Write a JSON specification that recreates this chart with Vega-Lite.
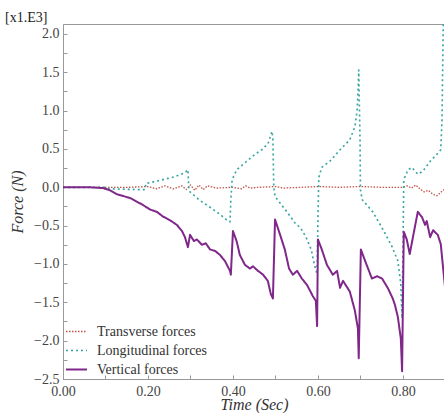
{
  "$schema": "https://vega.github.io/schema/vega-lite/v6.json",
  "autosize": {"type": "none"},
  "padding": {"left": 63, "top": 24, "right": 0, "bottom": 34},
  "width": 382,
  "height": 355,
  "background": "white",
  "title": {"text": "[x1.E3]", "anchor": "start", "frame": "group", "dx": -58, "dy": 12, "offset": 0, "baseline": "alphabetic", "font": "Liberation Serif", "fontSize": 14, "fontWeight": "normal", "color": "#222"},
  "config": {
    "font": "Liberation Serif",
    "view": {"stroke": "#999", "strokeWidth": 1},
    "axis": {"labelFont": "Liberation Serif", "labelFontSize": 14, "labelColor": "#444", "titleFont": "Liberation Serif", "titleFontSize": 16, "titleFontStyle": "italic", "titleFontWeight": "normal", "titleColor": "#333", "domainColor": "#999", "tickColor": "#999", "grid": false},
    "legend": {"labelFont": "Liberation Serif", "labelFontSize": 14, "labelColor": "#333"}
  },
  "data": {"values": [
    {"t":0,"f":0,"s":"Transverse forces"},{"t":0.15,"f":0,"s":"Transverse forces"},{"t":0.2,"f":0.01,"s":"Transverse forces"},{"t":0.22,"f":-0.02,"s":"Transverse forces"},{"t":0.24,"f":0.02,"s":"Transverse forces"},{"t":0.26,"f":-0.02,"s":"Transverse forces"},{"t":0.28,"f":0.02,"s":"Transverse forces"},{"t":0.29,"f":-0.03,"s":"Transverse forces"},{"t":0.3,"f":0.03,"s":"Transverse forces"},{"t":0.31,"f":-0.04,"s":"Transverse forces"},{"t":0.32,"f":0.03,"s":"Transverse forces"},{"t":0.33,"f":-0.03,"s":"Transverse forces"},{"t":0.34,"f":0.02,"s":"Transverse forces"},{"t":0.36,"f":-0.01,"s":"Transverse forces"},{"t":0.4,"f":0,"s":"Transverse forces"},{"t":0.42,"f":-0.02,"s":"Transverse forces"},{"t":0.43,"f":0.02,"s":"Transverse forces"},{"t":0.44,"f":-0.01,"s":"Transverse forces"},{"t":0.46,"f":0,"s":"Transverse forces"},{"t":0.5,"f":0.01,"s":"Transverse forces"},{"t":0.52,"f":-0.01,"s":"Transverse forces"},{"t":0.56,"f":0,"s":"Transverse forces"},{"t":0.6,"f":0.01,"s":"Transverse forces"},{"t":0.65,"f":0,"s":"Transverse forces"},{"t":0.7,"f":0.01,"s":"Transverse forces"},{"t":0.75,"f":0,"s":"Transverse forces"},{"t":0.8,"f":0,"s":"Transverse forces"},{"t":0.81,"f":0.02,"s":"Transverse forces"},{"t":0.82,"f":-0.01,"s":"Transverse forces"},{"t":0.83,"f":0.03,"s":"Transverse forces"},{"t":0.84,"f":-0.02,"s":"Transverse forces"},{"t":0.85,"f":-0.06,"s":"Transverse forces"},{"t":0.86,"f":-0.04,"s":"Transverse forces"},{"t":0.87,"f":-0.09,"s":"Transverse forces"},{"t":0.88,"f":-0.11,"s":"Transverse forces"},{"t":0.89,"f":-0.06,"s":"Transverse forces"},{"t":0.899,"f":-0.02,"s":"Transverse forces"},

    {"t":0,"f":0,"s":"Longitudinal forces"},{"t":0.099,"f":0,"s":"Longitudinal forces"},{"t":0.111,"f":-0.02,"s":"Longitudinal forces"},{"t":0.181,"f":-0.03,"s":"Longitudinal forces"},{"t":0.193,"f":-0.03,"s":"Longitudinal forces"},{"t":0.195,"f":0.05,"s":"Longitudinal forces"},{"t":0.228,"f":0.09,"s":"Longitudinal forces"},{"t":0.264,"f":0.14,"s":"Longitudinal forces"},{"t":0.287,"f":0.19,"s":"Longitudinal forces"},{"t":0.294,"f":0.23,"s":"Longitudinal forces"},{"t":0.296,"f":0,"s":"Longitudinal forces"},{"t":0.299,"f":-0.06,"s":"Longitudinal forces"},{"t":0.322,"f":-0.17,"s":"Longitudinal forces"},{"t":0.346,"f":-0.26,"s":"Longitudinal forces"},{"t":0.369,"f":-0.35,"s":"Longitudinal forces"},{"t":0.388,"f":-0.44,"s":"Longitudinal forces"},{"t":0.393,"f":-0.45,"s":"Longitudinal forces"},{"t":0.395,"f":-0.16,"s":"Longitudinal forces"},{"t":0.398,"f":0.1,"s":"Longitudinal forces"},{"t":0.409,"f":0.23,"s":"Longitudinal forces"},{"t":0.428,"f":0.32,"s":"Longitudinal forces"},{"t":0.452,"f":0.43,"s":"Longitudinal forces"},{"t":0.468,"f":0.49,"s":"Longitudinal forces"},{"t":0.475,"f":0.53,"s":"Longitudinal forces"},{"t":0.482,"f":0.56,"s":"Longitudinal forces"},{"t":0.492,"f":0.73,"s":"Longitudinal forces"},{"t":0.494,"f":0.62,"s":"Longitudinal forces"},{"t":0.496,"f":0,"s":"Longitudinal forces"},{"t":0.499,"f":-0.12,"s":"Longitudinal forces"},{"t":0.527,"f":-0.32,"s":"Longitudinal forces"},{"t":0.548,"f":-0.48,"s":"Longitudinal forces"},{"t":0.558,"f":-0.52,"s":"Longitudinal forces"},{"t":0.572,"f":-0.65,"s":"Longitudinal forces"},{"t":0.584,"f":-0.81,"s":"Longitudinal forces"},{"t":0.593,"f":-1.04,"s":"Longitudinal forces"},{"t":0.598,"f":-1.13,"s":"Longitudinal forces"},{"t":0.6,"f":-0.42,"s":"Longitudinal forces"},{"t":0.602,"f":0.13,"s":"Longitudinal forces"},{"t":0.609,"f":0.26,"s":"Longitudinal forces"},{"t":0.628,"f":0.34,"s":"Longitudinal forces"},{"t":0.652,"f":0.49,"s":"Longitudinal forces"},{"t":0.675,"f":0.62,"s":"Longitudinal forces"},{"t":0.687,"f":0.79,"s":"Longitudinal forces"},{"t":0.692,"f":0.99,"s":"Longitudinal forces"},{"t":0.694,"f":1.21,"s":"Longitudinal forces"},{"t":0.696,"f":1.53,"s":"Longitudinal forces"},{"t":0.699,"f":0.62,"s":"Longitudinal forces"},{"t":0.7,"f":-0.03,"s":"Longitudinal forces"},{"t":0.704,"f":-0.16,"s":"Longitudinal forces"},{"t":0.729,"f":-0.32,"s":"Longitudinal forces"},{"t":0.753,"f":-0.55,"s":"Longitudinal forces"},{"t":0.774,"f":-0.77,"s":"Longitudinal forces"},{"t":0.788,"f":-0.96,"s":"Longitudinal forces"},{"t":0.795,"f":-1.26,"s":"Longitudinal forces"},{"t":0.798,"f":-1.71,"s":"Longitudinal forces"},{"t":0.8,"f":-0.81,"s":"Longitudinal forces"},{"t":0.802,"f":0.1,"s":"Longitudinal forces"},{"t":0.812,"f":0.23,"s":"Longitudinal forces"},{"t":0.821,"f":0.26,"s":"Longitudinal forces"},{"t":0.835,"f":0.17,"s":"Longitudinal forces"},{"t":0.847,"f":0.21,"s":"Longitudinal forces"},{"t":0.864,"f":0.34,"s":"Longitudinal forces"},{"t":0.878,"f":0.42,"s":"Longitudinal forces"},{"t":0.889,"f":0.49,"s":"Longitudinal forces"},{"t":0.892,"f":0.88,"s":"Longitudinal forces"},{"t":0.895,"f":2.2,"s":"Longitudinal forces"},

    {"t":0,"f":0,"s":"Vertical forces"},{"t":0.064,"f":0,"s":"Vertical forces"},{"t":0.094,"f":-0.01,"s":"Vertical forces"},{"t":0.111,"f":-0.04,"s":"Vertical forces"},{"t":0.127,"f":-0.09,"s":"Vertical forces"},{"t":0.158,"f":-0.14,"s":"Vertical forces"},{"t":0.188,"f":-0.23,"s":"Vertical forces"},{"t":0.205,"f":-0.29,"s":"Vertical forces"},{"t":0.221,"f":-0.32,"s":"Vertical forces"},{"t":0.235,"f":-0.38,"s":"Vertical forces"},{"t":0.252,"f":-0.43,"s":"Vertical forces"},{"t":0.268,"f":-0.49,"s":"Vertical forces"},{"t":0.28,"f":-0.57,"s":"Vertical forces"},{"t":0.287,"f":-0.65,"s":"Vertical forces"},{"t":0.294,"f":-0.78,"s":"Vertical forces"},{"t":0.299,"f":-0.62,"s":"Vertical forces"},{"t":0.308,"f":-0.7,"s":"Vertical forces"},{"t":0.315,"f":-0.68,"s":"Vertical forces"},{"t":0.327,"f":-0.75,"s":"Vertical forces"},{"t":0.336,"f":-0.73,"s":"Vertical forces"},{"t":0.346,"f":-0.81,"s":"Vertical forces"},{"t":0.358,"f":-0.83,"s":"Vertical forces"},{"t":0.369,"f":-0.88,"s":"Vertical forces"},{"t":0.381,"f":-0.96,"s":"Vertical forces"},{"t":0.393,"f":-1.09,"s":"Vertical forces"},{"t":0.395,"f":-1.14,"s":"Vertical forces"},{"t":0.4,"f":-0.57,"s":"Vertical forces"},{"t":0.409,"f":-0.71,"s":"Vertical forces"},{"t":0.416,"f":-0.88,"s":"Vertical forces"},{"t":0.428,"f":-1.01,"s":"Vertical forces"},{"t":0.44,"f":-1.06,"s":"Vertical forces"},{"t":0.447,"f":-1.03,"s":"Vertical forces"},{"t":0.459,"f":-1.09,"s":"Vertical forces"},{"t":0.471,"f":-1.14,"s":"Vertical forces"},{"t":0.482,"f":-1.22,"s":"Vertical forces"},{"t":0.489,"f":-1.39,"s":"Vertical forces"},{"t":0.494,"f":-1.45,"s":"Vertical forces"},{"t":0.499,"f":-0.42,"s":"Vertical forces"},{"t":0.511,"f":-0.62,"s":"Vertical forces"},{"t":0.522,"f":-0.81,"s":"Vertical forces"},{"t":0.532,"f":-1.06,"s":"Vertical forces"},{"t":0.541,"f":-1.14,"s":"Vertical forces"},{"t":0.551,"f":-1.09,"s":"Vertical forces"},{"t":0.562,"f":-1.19,"s":"Vertical forces"},{"t":0.574,"f":-1.27,"s":"Vertical forces"},{"t":0.588,"f":-1.42,"s":"Vertical forces"},{"t":0.595,"f":-1.48,"s":"Vertical forces"},{"t":0.598,"f":-1.81,"s":"Vertical forces"},{"t":0.6,"f":-0.68,"s":"Vertical forces"},{"t":0.609,"f":-0.81,"s":"Vertical forces"},{"t":0.621,"f":-1.01,"s":"Vertical forces"},{"t":0.635,"f":-1.14,"s":"Vertical forces"},{"t":0.645,"f":-1.09,"s":"Vertical forces"},{"t":0.652,"f":-1.31,"s":"Vertical forces"},{"t":0.659,"f":-1.22,"s":"Vertical forces"},{"t":0.675,"f":-1.36,"s":"Vertical forces"},{"t":0.687,"f":-1.61,"s":"Vertical forces"},{"t":0.694,"f":-1.84,"s":"Vertical forces"},{"t":0.696,"f":-2.23,"s":"Vertical forces"},{"t":0.701,"f":-0.81,"s":"Vertical forces"},{"t":0.711,"f":-0.96,"s":"Vertical forces"},{"t":0.727,"f":-1.19,"s":"Vertical forces"},{"t":0.739,"f":-1.16,"s":"Vertical forces"},{"t":0.751,"f":-1.19,"s":"Vertical forces"},{"t":0.765,"f":-1.32,"s":"Vertical forces"},{"t":0.776,"f":-1.45,"s":"Vertical forces"},{"t":0.781,"f":-1.53,"s":"Vertical forces"},{"t":0.788,"f":-1.69,"s":"Vertical forces"},{"t":0.795,"f":-1.97,"s":"Vertical forces"},{"t":0.798,"f":-2.4,"s":"Vertical forces"},{"t":0.802,"f":-0.58,"s":"Vertical forces"},{"t":0.809,"f":-0.68,"s":"Vertical forces"},{"t":0.816,"f":-0.87,"s":"Vertical forces"},{"t":0.828,"f":-0.52,"s":"Vertical forces"},{"t":0.835,"f":-0.32,"s":"Vertical forces"},{"t":0.845,"f":-0.39,"s":"Vertical forces"},{"t":0.852,"f":-0.49,"s":"Vertical forces"},{"t":0.856,"f":-0.44,"s":"Vertical forces"},{"t":0.864,"f":-0.65,"s":"Vertical forces"},{"t":0.871,"f":-0.56,"s":"Vertical forces"},{"t":0.882,"f":-0.62,"s":"Vertical forces"},{"t":0.889,"f":-0.74,"s":"Vertical forces"},{"t":0.899,"f":-1.3,"s":"Vertical forces"}
  ]},
  "mark": {"type": "line", "clip": true, "strokeJoin": "round"},
  "encoding": {
    "x": {"field": "t", "type": "quantitative", "scale": {"domain": [0, 0.899], "nice": false, "zero": false},
      "axis": {"title": "Time (Sec)", "values": [0,0.1,0.2,0.3,0.4,0.5,0.6,0.7,0.8],
        "labelExpr": "round(datum.value*10) % 2 == 0 ? format(datum.value, '.2f') : ''",
        "tickSize": -4, "labelFont": "Liberation Serif", "titleFont": "Liberation Serif",
        "labelPadding": 9, "titlePadding": -2, "labelFlush": false}},
    "y": {"field": "f", "type": "quantitative", "scale": {"domain": [-2.5, 2.13], "nice": false, "zero": false},
      "axis": {"title": "Force (N)", "values": [-2.5,-2.25,-2,-1.75,-1.5,-1.25,-1,-0.75,-0.5,-0.25,0,0.25,0.5,0.75,1,1.25,1.5,1.75,2],
        "labelExpr": "round(datum.value*4) % 2 == 0 ? format(datum.value, '.1f') : ''",
        "tickSize": -4, "labelFont": "Liberation Serif", "titleFont": "Liberation Serif",
        "labelPadding": 8, "titlePadding": 8, "labelFlush": false}},
    "color": {"field": "s", "type": "nominal", "title": null,
      "scale": {"domain": ["Transverse forces", "Longitudinal forces", "Vertical forces"], "range": ["#c0524a", "#3aa5a3", "#80288a"]},
      "legend": {"orient": "bottom-left", "offset": 2, "symbolType": "stroke", "symbolSize": 441, "symbolStrokeWidth": 2, "rowPadding": -2, "labelOffset": 9}},
    "strokeDash": {"field": "s", "type": "nominal", "title": null,
      "scale": {"domain": ["Transverse forces", "Longitudinal forces", "Vertical forces"], "range": [[1.5, 1.5], [2, 3], [1, 0]]}},
    "strokeWidth": {"field": "s", "type": "nominal", "title": null, "legend": null,
      "scale": {"domain": ["Transverse forces", "Longitudinal forces", "Vertical forces"], "range": [1.3, 2, 2]}},
    "order": {"field": "t", "type": "quantitative"}
  }
}
